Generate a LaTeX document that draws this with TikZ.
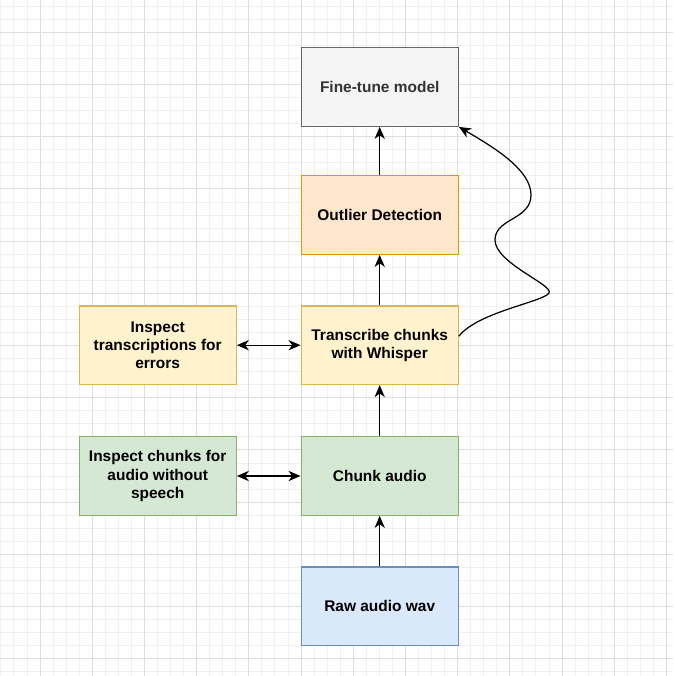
\documentclass[tikz,border=0pt]{standalone}
\usepackage{fontspec}
\setmainfont{Liberation Sans}
\usetikzlibrary{positioning, arrows.meta}
\usepackage{xcolor}

\definecolor{grauF}{HTML}{F5F5F5}
\definecolor{grauR}{HTML}{666666}
\definecolor{grauT}{HTML}{333333}
\definecolor{orangeF}{HTML}{FFE6CC}
\definecolor{orangeR}{HTML}{D79B00}
\definecolor{gelbF}{HTML}{FFF2CC}
\definecolor{gelbR}{HTML}{D6B656}
\definecolor{gruenF}{HTML}{D5E8D4}
\definecolor{gruenR}{HTML}{82B366}
\definecolor{blauF}{HTML}{DAE8FC}
\definecolor{blauR}{HTML}{6C8EBF}

\begin{document}
\begin{tikzpicture}[x=0.02cm, y=-0.02cm,
    >={Stealth[length=6.8pt, width=5.8pt, inset=2pt]},
    box/.style={draw, line width=0.75pt, minimum width=3.14cm, minimum height=1.57cm,
        align=center, inner sep=2pt, font=\fontsize{8.8}{10.4}\selectfont\bfseries},
    pfeil/.style={->, line width=0.7pt},
    doppelpfeil/.style={<->, line width=0.7pt},
    rasterklein/.style={black!6, line width=0.5pt},
    rastergross/.style={black!13, line width=0.5pt}]
            % Hintergrund
            \fill[white] (0,0) rectangle (673,676);
            \useasboundingbox (0,0) rectangle (673,676);

            % Raster
            \foreach \i in {0,...,51} {
                \draw[rasterklein] ({0.85+13.05*\i},0) -- ({0.85+13.05*\i},676);
                \draw[rasterklein] (0,{6.2+13.05*\i}) -- (673,{6.2+13.05*\i});
            }
            \foreach \i in {0,...,12} {
                \draw[rastergross] ({40+52.2*\i},0) -- ({40+52.2*\i},676);
                \draw[rastergross] (0,{32.3+52.2*\i}) -- (673,{32.3+52.2*\i});
            }

            % Kaesten
            \node[box, fill=grauF, draw=grauR, text=grauT] (finetune) at (379.7,87) {Fine-tune model};
            \node[box, fill=orangeF, draw=orangeR] (outlier) at (379.7,215) {Outlier Detection};
            \node[box, fill=gelbF, draw=gelbR] (transcribe) at (379.7,345.2) {Transcribe chunks\\with Whisper};
            \node[box, fill=gruenF, draw=gruenR] (chunk) at (379.7,476) {Chunk audio};
            \node[box, fill=blauF, draw=blauR] (raw) at (379.7,606.3) {Raw audio wav};
            \node[box, fill=gelbF, draw=gelbR] (inspecttrans) at (157.7,345.2) {Inspect\\transcriptions for\\errors};
            \node[box, fill=gruenF, draw=gruenR] (inspectchunks) at (157.7,476) {Inspect chunks for\\audio without\\speech};

            % Pfeile
            \draw[pfeil] (raw) -- (chunk);
            \draw[pfeil] (chunk) -- (transcribe);
            \draw[pfeil] (transcribe) -- (outlier);
            \draw[pfeil] (outlier) -- (finetune);
            \draw[doppelpfeil] (inspecttrans) -- (transcribe);
            \draw[doppelpfeil] (inspectchunks) -- (chunk);

            % Wellenlinie
            \draw[pfeil] ([yshift=0.18cm]transcribe.east)
                .. controls (478,312) and (543,302) .. (549,293)
                .. controls (554,285) and (495,263) .. (495,240)
                .. controls (495,218) and (531,220) .. (531,195)
                .. controls (531,170) and (495,148) .. (finetune.south east);
        \end{tikzpicture}
\end{document}
